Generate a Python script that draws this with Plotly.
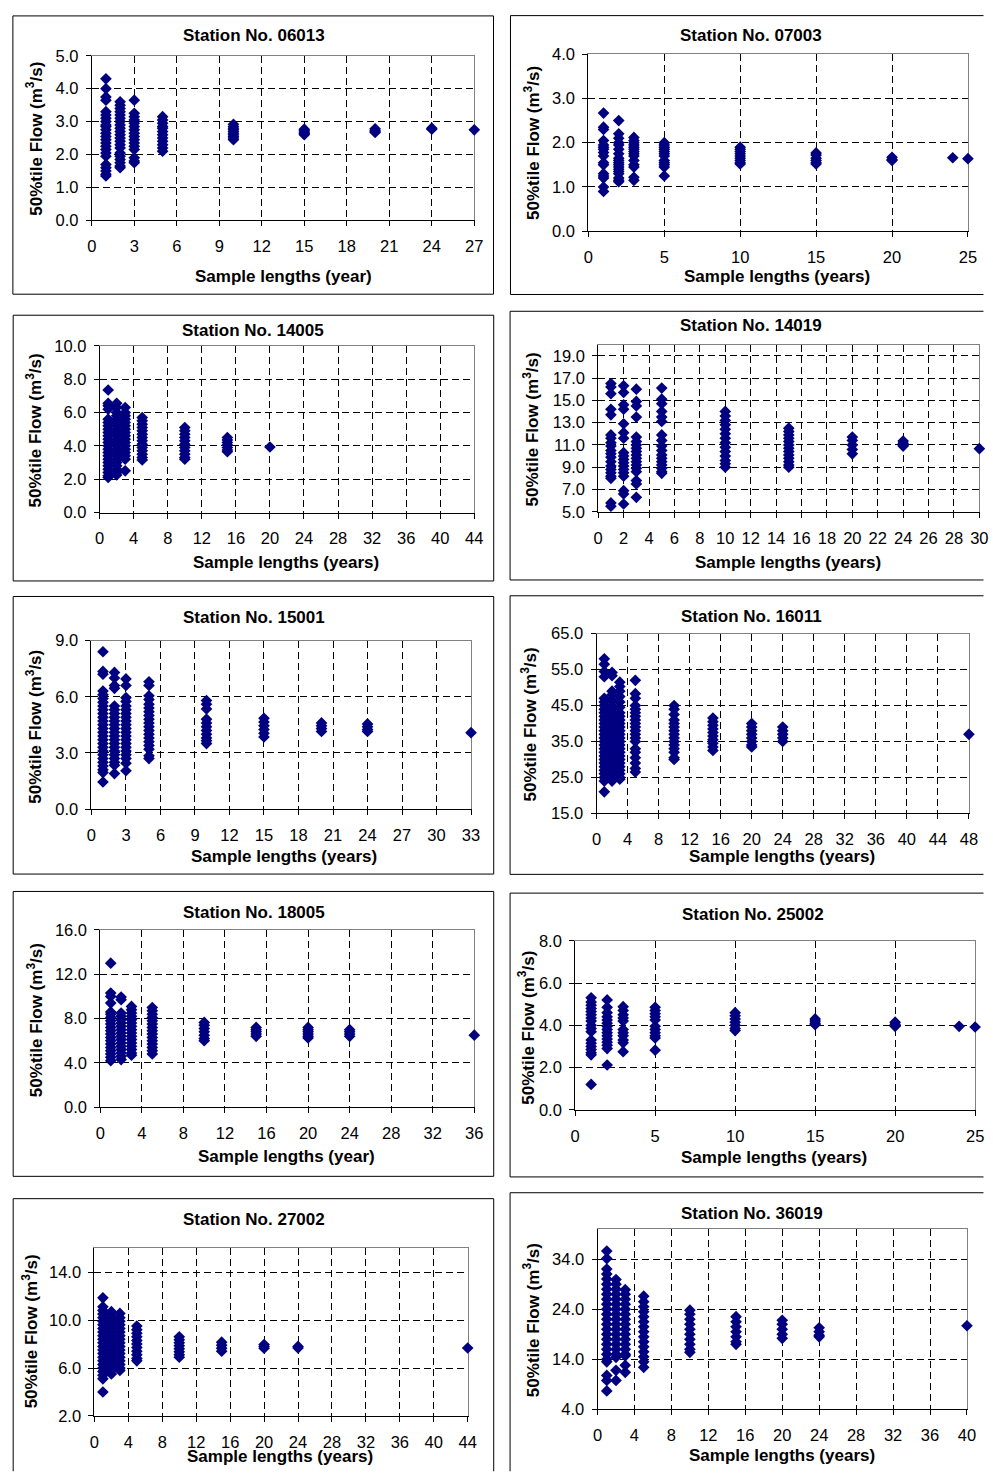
import plotly.graph_objects as go

W, H = 993, 1481
FONT = "Liberation Sans, Arial, sans-serif"
NAVY = "#000080"

# ---------------- data ----------------
station_ids = ["06013", "07003", "14005", "14019", "15001",
               "16011", "18005", "25002", "27002", "36019"]
x_titles = ["Sample lengths (year)", "Sample lengths (years)",
            "Sample lengths (years)", "Sample lengths (years)",
            "Sample lengths (years)", "Sample lengths (years)",
            "Sample lengths (year)", "Sample lengths (years)",
            "Sample lengths (years)", "Sample lengths (years)"]
y_title = "50%tile Flow (m<sup>3</sup>/s)"

len_06013 = [1, 2, 3, 5, 10, 15, 20, 24, 27]
flow_06013 = [
    [4.3, 4.0, 3.75, 3.65, 3.3, 3.2, 3.1, 3.0, 2.9, 2.85, 2.75, 2.65, 2.55, 2.45, 2.35, 2.25, 2.15, 2.05, 1.95, 1.7, 1.6, 1.5, 1.4, 1.35],
    [3.6, 3.5, 3.4, 3.3, 3.2, 3.1, 3.0, 2.9, 2.8, 2.7, 2.6, 2.5, 2.4, 2.3, 2.2, 2.05, 1.95, 1.85, 1.75, 1.65, 1.6],
    [3.65, 3.25, 3.15, 3.05, 2.95, 2.85, 2.75, 2.65, 2.55, 2.45, 2.35, 2.25, 2.15, 1.9, 1.8, 1.75],
    [3.15, 3.05, 2.95, 2.85, 2.8, 2.7, 2.6, 2.5, 2.4, 2.3, 2.2, 2.1],
    [2.92, 2.85, 2.8, 2.75, 2.7, 2.65, 2.6, 2.55, 2.5, 2.45],
    [2.77, 2.72, 2.68, 2.64, 2.6],
    [2.78, 2.74, 2.7, 2.67],
    [2.8, 2.77],
    [2.75],
]

len_07003 = [1, 2, 3, 5, 10, 15, 20, 24, 25]
flow_07003 = [
    [2.67, 2.35, 2.3, 2.05, 1.95, 1.9, 1.85, 1.78, 1.7, 1.55, 1.5, 1.3, 1.25, 1.2, 1.0, 0.9],
    [2.5, 2.2, 2.1, 2.0, 1.95, 1.85, 1.75, 1.65, 1.6, 1.55, 1.5, 1.45, 1.4, 1.35, 1.3, 1.2, 1.15, 1.12],
    [2.12, 2.05, 2.0, 1.95, 1.9, 1.85, 1.8, 1.75, 1.7, 1.6, 1.5, 1.45, 1.22, 1.15],
    [2.0, 1.95, 1.9, 1.85, 1.8, 1.75, 1.7, 1.6, 1.55, 1.5, 1.45, 1.25],
    [1.9, 1.85, 1.8, 1.75, 1.7, 1.65, 1.6, 1.55, 1.52],
    [1.77, 1.72, 1.65, 1.6, 1.55, 1.52],
    [1.67, 1.62, 1.6],
    [1.66],
    [1.64],
]

len_14005 = [1, 2, 3, 5, 10, 15, 20]
flow_14005 = [
    [7.35, 6.55, 6.4, 6.2, 5.6, 5.4, 5.2, 5.0, 4.8, 4.6, 4.4, 4.2, 4.0, 3.8, 3.6, 3.4, 3.2, 3.0, 2.8, 2.6, 2.4, 2.2, 2.1],
    [6.55, 6.3, 6.0, 5.8, 5.6, 5.4, 5.2, 5.0, 4.8, 4.6, 4.4, 4.2, 4.0, 3.8, 3.6, 3.4, 3.2, 3.0, 2.8, 2.6, 2.4, 2.25],
    [6.3, 6.0, 5.8, 5.6, 5.4, 5.2, 5.0, 4.8, 4.6, 4.4, 4.2, 4.0, 3.8, 3.6, 3.4, 3.2, 2.5],
    [5.7, 5.5, 5.3, 5.1, 4.9, 4.7, 4.5, 4.3, 4.1, 3.9, 3.7, 3.5, 3.3, 3.15],
    [5.1, 4.9, 4.7, 4.5, 4.3, 4.1, 3.9, 3.7, 3.5, 3.3, 3.2],
    [4.5, 4.35, 4.2, 4.05, 3.9, 3.75, 3.65],
    [3.93],
]

len_14019 = [1, 2, 3, 5, 10, 15, 20, 24, 30]
flow_14019 = [
    [16.5, 16.2, 15.6, 14.2, 13.7, 11.9, 11.6, 11.2, 10.9, 10.5, 10.2, 9.9, 9.5, 9.1, 8.8, 8.5, 8.2, 8.0, 5.8, 5.5],
    [16.3, 15.7, 14.6, 14.2, 12.9, 12.1, 11.6, 10.3, 10.0, 9.7, 9.4, 9.1, 8.8, 8.5, 8.2, 6.9, 6.6, 5.7],
    [16.0, 14.9, 14.5, 13.5, 11.7, 11.3, 11.0, 10.7, 10.4, 10.1, 9.8, 9.5, 9.2, 8.9, 8.6, 7.8, 7.5, 6.3],
    [16.1, 15.1, 14.7, 14.0, 13.5, 13.1, 11.9, 11.4, 10.9, 10.5, 10.1, 9.8, 9.5, 9.2, 8.9, 8.6, 8.45],
    [14.0, 13.6, 13.2, 12.8, 12.4, 12.0, 11.6, 11.2, 10.8, 10.4, 10.0, 9.6, 9.3, 9.0],
    [12.5, 12.2, 11.9, 11.6, 11.3, 11.0, 10.7, 10.4, 10.1, 9.8, 9.5, 9.2, 9.0],
    [11.7, 11.4, 11.0, 10.6, 10.2],
    [11.35, 11.15, 11.0, 10.9],
    [10.66],
]

len_15001 = [1, 2, 3, 5, 10, 15, 20, 24, 33]
flow_15001 = [
    [8.4, 7.35, 7.2, 6.3, 6.1, 5.9, 5.7, 5.5, 5.3, 5.1, 4.9, 4.7, 4.5, 4.3, 4.1, 3.9, 3.7, 3.5, 3.3, 3.1, 2.9, 2.7, 2.5, 2.3, 2.1, 1.95, 1.45],
    [7.3, 7.0, 6.6, 6.45, 5.5, 5.3, 5.1, 4.9, 4.7, 4.5, 4.3, 4.1, 3.9, 3.7, 3.5, 3.3, 3.1, 2.9, 2.7, 2.5, 2.35, 1.9],
    [6.95, 6.6, 5.95, 5.75, 5.5, 5.3, 5.1, 4.9, 4.7, 4.5, 4.3, 4.1, 3.9, 3.7, 3.5, 3.3, 3.1, 2.9, 2.7, 2.45, 2.05],
    [6.8, 6.6, 6.05, 5.85, 5.6, 5.4, 5.2, 5.0, 4.8, 4.6, 4.4, 4.2, 4.0, 3.8, 3.6, 3.4, 3.2, 2.85, 2.7],
    [5.8, 5.6, 5.35, 4.8, 4.6, 4.4, 4.2, 4.0, 3.8, 3.65, 3.5],
    [4.85, 4.65, 4.45, 4.25, 4.05, 3.85],
    [4.6, 4.45, 4.3, 4.15],
    [4.55, 4.4, 4.25, 4.15],
    [4.08],
]

len_16011 = [1, 2, 3, 5, 10, 15, 20, 24, 48]
flow_16011 = [
    [58.0, 56.5, 54.5, 53.0, 47.0, 46.0, 45.0, 44.0, 43.0, 42.0, 41.0, 40.0, 39.0, 38.0, 37.0, 36.0, 35.0, 34.0, 33.0, 32.0, 31.0, 30.0, 29.0, 28.0, 27.0, 26.0, 25.0, 24.0, 21.0],
    [54.2, 53.3, 49.0, 48.0, 46.5, 45.0, 44.0, 43.0, 42.0, 41.0, 40.0, 39.0, 38.0, 37.0, 36.0, 35.0, 34.0, 33.0, 32.0, 31.0, 30.0, 29.0, 28.0, 27.0, 26.0, 25.0, 24.0],
    [51.5, 50.3, 49.0, 47.5, 46.0, 44.5, 43.0, 42.0, 41.0, 40.0, 39.0, 38.0, 37.0, 36.0, 35.0, 34.0, 33.0, 32.0, 31.0, 30.0, 29.0, 28.0, 27.0, 26.0, 25.0, 24.5],
    [52.0, 48.3, 47.0, 45.0, 44.0, 43.0, 42.0, 41.0, 40.0, 39.0, 38.0, 37.0, 36.0, 35.0, 33.0, 32.0, 30.5, 29.0, 27.5, 26.5],
    [45.0, 44.0, 42.5, 41.0, 40.0, 39.0, 38.0, 37.0, 36.0, 35.0, 34.0, 33.0, 32.0, 30.5, 30.0],
    [41.5, 40.5, 39.5, 38.5, 37.5, 36.5, 35.5, 34.5, 33.5, 32.5],
    [40.0, 39.0, 38.0, 37.0, 36.0, 35.0, 34.0, 33.5],
    [39.0, 38.0, 37.0, 36.0, 35.0],
    [37.0],
]

len_18005 = [1, 2, 3, 5, 10, 15, 20, 24, 36]
flow_18005 = [
    [13.0, 10.3, 10.0, 9.4, 8.6, 8.4, 8.1, 7.8, 7.5, 7.2, 6.9, 6.6, 6.3, 6.0, 5.7, 5.4, 5.1, 4.8, 4.5, 4.2],
    [9.95, 9.7, 8.5, 8.2, 7.9, 7.6, 7.3, 7.0, 6.7, 6.4, 6.1, 5.8, 5.5, 5.2, 4.9, 4.6, 4.3],
    [9.1, 8.8, 8.5, 8.2, 7.9, 7.6, 7.3, 7.0, 6.7, 6.4, 6.1, 5.8, 5.5, 5.2, 4.9, 4.7],
    [9.0, 8.7, 8.4, 8.1, 7.8, 7.5, 7.2, 6.9, 6.6, 6.3, 6.0, 5.7, 5.4, 5.1, 4.8],
    [7.65, 7.4, 7.1, 6.8, 6.5, 6.2, 6.0],
    [7.2, 7.0, 6.8, 6.6, 6.4],
    [7.2, 7.0, 6.8, 6.6, 6.4, 6.25],
    [7.0, 6.8, 6.6, 6.4],
    [6.5],
]

len_25002 = [1, 2, 3, 5, 10, 15, 20, 24, 25]
flow_25002 = [
    [5.3, 5.1, 4.95, 4.8, 4.65, 4.5, 4.35, 4.2, 4.0, 3.85, 3.7, 3.3, 3.15, 3.0, 2.85, 2.7, 2.6, 1.2],
    [5.2, 4.85, 4.6, 4.4, 4.25, 4.1, 3.95, 3.8, 3.65, 3.5, 3.35, 3.2, 3.05, 2.9, 2.12],
    [4.88, 4.7, 4.5, 4.35, 4.2, 3.8, 3.65, 3.5, 3.3, 3.17, 2.75],
    [4.85, 4.7, 4.55, 4.4, 4.25, 3.95, 3.8, 3.65, 3.5, 3.4, 2.82],
    [4.6, 4.45, 4.3, 4.15, 4.0, 3.85, 3.75],
    [4.3, 4.2, 4.1, 4.03],
    [4.15, 4.05, 3.95],
    [3.95],
    [3.92],
]

len_27002 = [1, 2, 3, 5, 10, 15, 20, 24, 44]
flow_27002 = [
    [11.85, 11.1, 10.8, 10.5, 10.2, 9.9, 9.6, 9.3, 9.0, 8.7, 8.4, 8.1, 7.8, 7.5, 7.2, 6.9, 6.6, 6.3, 6.0, 5.7, 5.4, 5.1, 4.0],
    [10.7, 10.3, 10.0, 9.7, 9.4, 9.1, 8.8, 8.5, 8.2, 7.9, 7.6, 7.3, 7.0, 6.7, 6.4, 6.1, 5.8, 5.5],
    [10.55, 10.2, 9.9, 9.6, 9.3, 9.0, 8.7, 8.4, 8.1, 7.8, 7.5, 7.2, 6.9, 6.6, 6.3, 6.0, 5.8],
    [9.5, 9.2, 8.9, 8.6, 8.3, 8.0, 7.7, 7.4, 7.1, 6.8, 6.6],
    [8.6, 8.35, 8.1, 7.85, 7.6, 7.35, 7.1, 6.9],
    [8.15, 7.9, 7.65, 7.4],
    [7.95, 7.8, 7.65],
    [7.8, 7.67],
    [7.67],
]

len_36019 = [1, 2, 3, 5, 10, 15, 20, 24, 40]
flow_36019 = [
    [35.6, 34.1, 32.0, 31.0, 30.0, 29.0, 28.0, 27.0, 26.0, 25.0, 24.0, 23.0, 22.0, 21.0, 20.0, 19.0, 18.0, 17.0, 16.0, 15.0, 14.0, 13.5, 10.8, 9.8, 7.7],
    [29.9, 29.0, 28.0, 27.0, 26.0, 25.0, 24.0, 23.0, 22.0, 21.0, 20.0, 19.0, 18.0, 17.0, 16.0, 15.0, 14.4, 11.8, 9.8],
    [27.9, 27.0, 26.0, 25.0, 24.0, 23.0, 22.0, 21.0, 20.0, 19.0, 18.0, 17.0, 16.0, 15.0, 14.7, 12.8, 11.4],
    [26.6, 25.5, 24.5, 23.5, 22.5, 21.5, 20.5, 19.5, 18.5, 17.5, 16.5, 15.5, 14.5, 13.5, 12.4],
    [23.8, 23.0, 22.0, 21.0, 20.0, 19.0, 18.0, 17.0, 16.0, 15.4],
    [22.5, 21.5, 20.5, 19.5, 18.5, 17.5, 17.0],
    [21.8, 21.0, 20.0, 19.0, 18.2],
    [20.3, 19.5, 18.8, 18.5],
    [20.7],
]

# axis scales and tick labels
x_ranges = [[0, 27], [0, 25], [0, 44], [0, 30], [0, 33], [0, 48], [0, 36], [0, 25], [0, 44], [0, 40]]
x_dticks = [3, 5, 4, 2, 3, 4, 4, 5, 4, 4]
y_ranges = [[0, 5], [0, 4], [0, 10], [5, 20], [0, 9], [15, 65], [0, 16], [0, 8], [2, 16], [4, 40]]
y_ticks = [
    [0, 1, 2, 3, 4, 5],
    [0, 1, 2, 3, 4],
    [0, 2, 4, 6, 8, 10],
    [5, 7, 9, 11, 13, 15, 17, 19],
    [0, 3, 6, 9],
    [15, 25, 35, 45, 55, 65],
    [0, 4, 8, 12, 16],
    [0, 2, 4, 6, 8],
    [2, 6, 10, 14],
    [4, 14, 24, 34],
]

lengths = [len_06013, len_07003, len_14005, len_14019, len_15001,
           len_16011, len_18005, len_25002, len_27002, len_36019]
flows = [flow_06013, flow_07003, flow_14005, flow_14019, flow_15001,
         flow_16011, flow_18005, flow_25002, flow_27002, flow_36019]

# ---------------- layout geometry (pixels) ----------------
# plot areas: x0, x1, ytop, ybottom
plot_boxes = [
    (88, 476, 47.3, 214),
    (591.7, 976.7, 45.7, 225),
    (96, 476, 341, 509.7),
    (601.7, 988.3, 339.7, 509),
    (87.7, 472.7, 639.3, 810),
    (600, 977.7, 632.3, 814.3),
    (96.7, 476, 932.3, 1111.7),
    (578.3, 984, 943.3, 1114.3),
    (90.7, 469.3, 1254.3, 1424.3),
    (601, 975.7, 1235, 1417.7),
]
# chart frames: x0, ytop, x1, ybottom (None = runs off the page)
frames = [
    (8, 7, 495.5, 288.7),
    (512.7, 6.7, None, 289),
    (8.3, 310, 495.7, 579),
    (512.3, 306, None, 578),
    (8.3, 594.7, 495.7, 875.7),
    (512.3, 594, None, 876),
    (8.3, 893.3, 495.7, 1181.7),
    (512.3, 895, None, 1182.3),
    (8.3, 1204.3, 495.7, None),
    (512.3, 1198.3, None, None),
]
title_pos = [(253, 26.7), (756.7, 27.3), (252, 325.7), (756.7, 320), (252.7, 616),
             (756.7, 615), (252.7, 915), (759, 916.7), (252.7, 1225), (757.3, 1219)]
xtitle_pos = [(282.7, 270.7), (783.3, 270.7), (285, 560), (794, 560), (282.7, 857.7),
              (788.3, 857.7), (286, 1161.7), (780, 1162.7), (279.3, 1465), (787.7, 1464.3)]
ytitle_pos = [(30, 131.7), (534.3, 135.8), (29.3, 426.7), (533.3, 425.8), (29.3, 726.7),
              (531.7, 724), (30, 1024), (529, 1031.7), (25, 1339), (534.3, 1327.5)]


def px(x):
    return x / W


def py(y):
    return 1 - y / H


def frame_path(x0, yt, x1, yb):
    # open path so nothing is drawn beyond the page edge
    xe = px(x1) if x1 is not None else 0.9995
    ye = py(yb) if yb is not None else 0.0005
    a, t = px(x0), py(yt)
    if x1 is not None and yb is not None:
        return f"M{a},{t} L{xe},{t} L{xe},{ye} L{a},{ye} Z"
    if x1 is None and yb is not None:
        return f"M{xe},{t} L{a},{t} L{a},{ye} L{xe},{ye}"
    if x1 is not None and yb is None:
        return f"M{a},{ye} L{a},{t} L{xe},{t} L{xe},{ye}"
    return f"M{xe},{t} L{a},{t} L{a},{ye}"


fig = go.Figure()
layout = dict(
    width=W, height=H,
    margin=dict(l=0, r=0, t=0, b=0),
    paper_bgcolor="white", plot_bgcolor="white",
    showlegend=False,
    font=dict(family=FONT, size=16, color="black"),
    shapes=[], annotations=[],
)

for i in range(10):
    n = i + 1
    xa = "x" if n == 1 else f"x{n}"
    ya = "y" if n == 1 else f"y{n}"
    xs, ys = [], []
    for L, vals in zip(lengths[i], flows[i]):
        xs += [L] * len(vals)
        ys += vals
    fig.add_trace(go.Scatter(
        x=xs, y=ys, mode="markers", xaxis=xa, yaxis=ya,
        marker=dict(symbol="diamond", size=9, color=NAVY, line=dict(width=0)),
        cliponaxis=False, hoverinfo="x+y",
    ))
    x0, x1, yt, yb = plot_boxes[i]
    xdom = [px(x0), px(x1)]
    ydom = [py(yb), py(yt)]
    axis_common = dict(
        showline=True, linecolor="black", linewidth=1, mirror=False,
        ticks="outside", ticklen=5, tickcolor="black", tickwidth=1,
        showgrid=True, gridcolor="black", gridwidth=1, griddash="7px,4px",
        zeroline=False, fixedrange=True,
        tickfont=dict(family=FONT, size=16.5, color="black"),
    )
    layout["xaxis" if n == 1 else f"xaxis{n}"] = dict(
        axis_common, domain=xdom, anchor=ya,
        range=x_ranges[i], tickmode="linear", tick0=0, dtick=x_dticks[i],
        ticklabelstandoff=6,
    )
    layout["yaxis" if n == 1 else f"yaxis{n}"] = dict(
        axis_common, domain=ydom, anchor=xa,
        range=y_ranges[i], tickmode="array", tickvals=y_ticks[i],
        ticktext=[f"{v:.1f}" for v in y_ticks[i]],
        ticklabelstandoff=4,
    )
    # grey top/right border of the plot area via overlay axes (below markers)
    ox, oy = 10 + n, 10 + n
    border = dict(showline=True, linecolor="#808080", linewidth=1,
                  showgrid=False, zeroline=False, showticklabels=False,
                  ticks="", layer="below traces", fixedrange=True)
    layout[f"xaxis{ox}"] = dict(border, overlaying=xa, side="top",
                                anchor=ya, range=x_ranges[i])
    layout[f"yaxis{oy}"] = dict(border, overlaying=ya, side="right",
                                anchor=xa, range=y_ranges[i])
    fig.add_trace(go.Scatter(x=[], y=[], xaxis=f"x{ox}", yaxis=f"y{oy}",
                             mode="markers", hoverinfo="skip"))
    # chart frame
    layout["shapes"].append(dict(
        type="path", xref="paper", yref="paper", path=frame_path(*frames[i]),
        line=dict(color="black", width=1), layer="below",
    ))
    tx, ty = title_pos[i]
    layout["annotations"].append(dict(
        text=f"<b>Station No. {station_ids[i]}</b>", x=px(tx), y=py(ty),
        xref="paper", yref="paper", xanchor="center", yanchor="middle",
        showarrow=False, font=dict(family=FONT, size=17, color="black"),
    ))
    ax, ay = xtitle_pos[i]
    layout["annotations"].append(dict(
        text=f"<b>{x_titles[i]}</b>", x=px(ax), y=py(ay),
        xref="paper", yref="paper", xanchor="center", yanchor="middle",
        showarrow=False, font=dict(family=FONT, size=17, color="black"),
    ))
    bx, by = ytitle_pos[i]
    layout["annotations"].append(dict(
        text=f"<b>{y_title}</b>", x=px(bx), y=py(by), textangle=-90,
        xref="paper", yref="paper", xanchor="center", yanchor="middle",
        showarrow=False, font=dict(family=FONT, size=17, color="black"),
    ))

fig.update_layout(**layout)
fig.write_html("out.html", config={"staticPlot": True})
